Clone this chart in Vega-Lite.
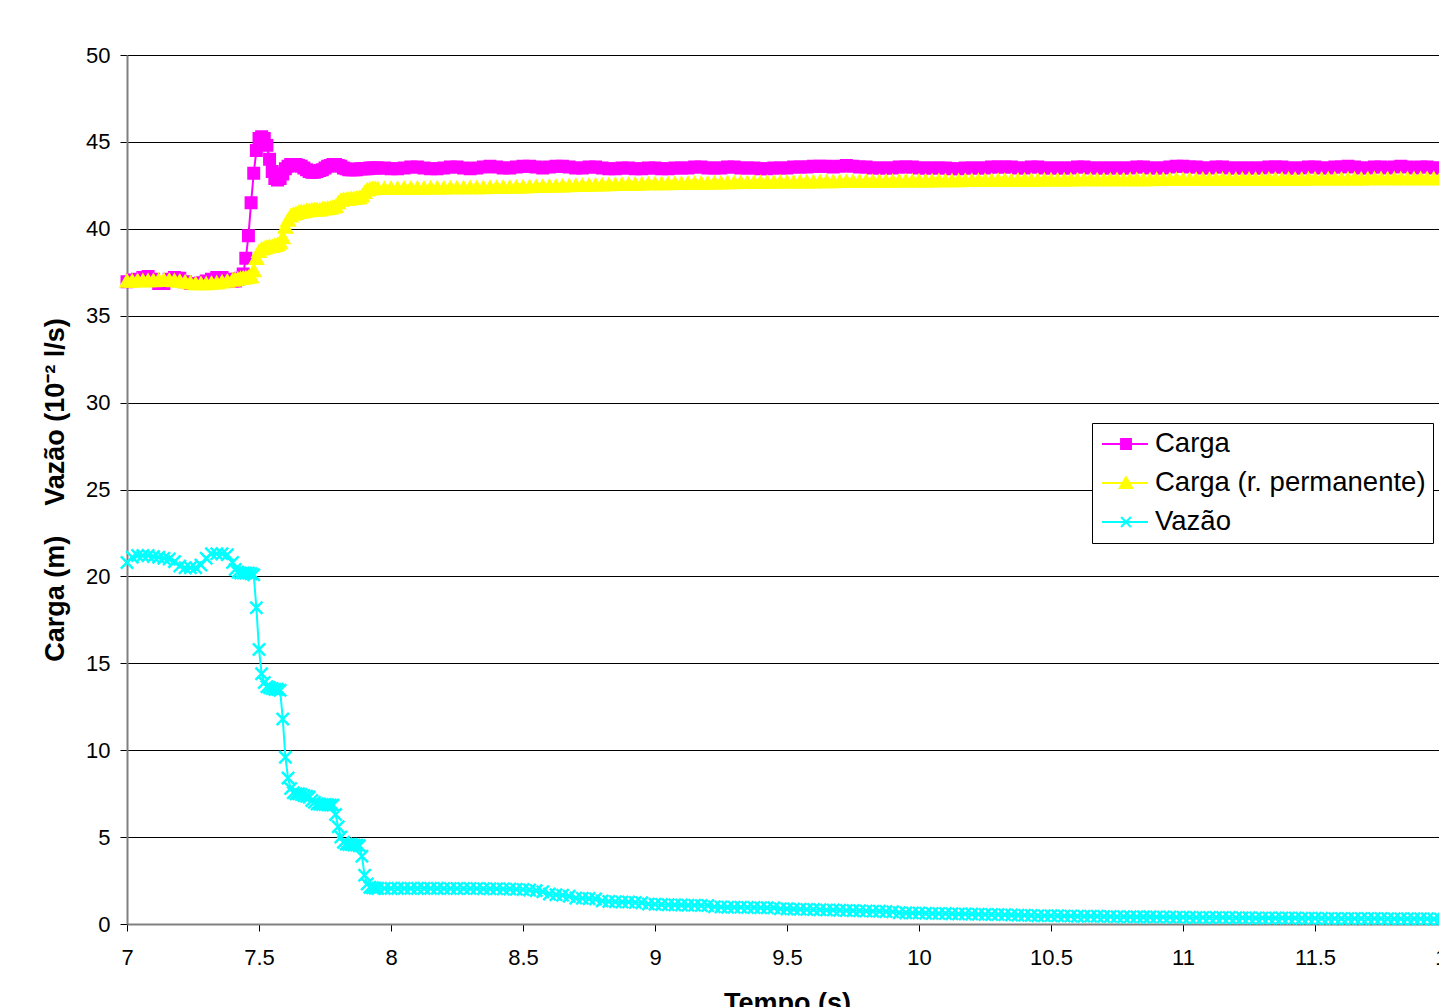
{
"$schema": "https://vega.github.io/schema/vega-lite/v6.json",
"width": 1320, "height": 869,
"autosize": {"type": "none"},
"padding": {"left": 127, "top": 55, "right": -8, "bottom": 83},
"background": "white",
"config": {"view": {"stroke": null}, "font": "Liberation Sans"},
"data": {"values": [
{"t":7.00,"c":36.95,"p":37.0,"v":20.8},
{"t":7.02,"c":37.05,"p":37.0,"v":21.1},
{"t":7.04,"c":37.1,"p":37.02,"v":21.2},
{"t":7.06,"c":37.2,"p":37.02,"v":21.2},
{"t":7.08,"c":37.25,"p":37.03,"v":21.2},
{"t":7.10,"c":37.1,"p":37.03,"v":21.15},
{"t":7.12,"c":36.85,"p":37.05,"v":21.1},
{"t":7.14,"c":36.85,"p":37.05,"v":21.05},
{"t":7.16,"c":37.1,"p":37.05,"v":21.0},
{"t":7.18,"c":37.2,"p":37.03,"v":20.85},
{"t":7.20,"c":37.15,"p":37.0,"v":20.6},
{"t":7.22,"c":36.95,"p":36.95,"v":20.5},
{"t":7.24,"c":36.85,"p":36.9,"v":20.5},
{"t":7.26,"c":36.85,"p":36.85,"v":20.5},
{"t":7.28,"c":36.9,"p":36.85,"v":20.65},
{"t":7.30,"c":37.0,"p":36.85,"v":21.05},
{"t":7.32,"c":37.1,"p":36.88,"v":21.3},
{"t":7.34,"c":37.2,"p":36.9,"v":21.3},
{"t":7.36,"c":37.2,"p":36.95,"v":21.3},
{"t":7.38,"c":37.1,"p":37.0,"v":21.25},
{"t":7.40,"c":37.0,"p":37.05,"v":20.8},
{"t":7.41,"c":37.0,"p":37.1,"v":20.4},
{"t":7.42,"c":37.1,"p":37.12,"v":20.25},
{"t":7.43,"c":37.15,"p":37.15,"v":20.2},
{"t":7.44,"c":37.4,"p":37.18,"v":20.2},
{"t":7.45,"c":38.3,"p":37.2,"v":20.2},
{"t":7.46,"c":39.6,"p":37.22,"v":20.2},
{"t":7.47,"c":41.5,"p":37.25,"v":20.15},
{"t":7.48,"c":43.2,"p":37.6,"v":20.1},
{"t":7.49,"c":44.5,"p":38.3,"v":18.2},
{"t":7.50,"c":45.2,"p":38.7,"v":15.8},
{"t":7.51,"c":45.3,"p":38.85,"v":14.4},
{"t":7.52,"c":45.2,"p":38.9,"v":13.9},
{"t":7.53,"c":44.8,"p":38.95,"v":13.65},
{"t":7.54,"c":44.0,"p":39.0,"v":13.6},
{"t":7.55,"c":43.3,"p":39.0,"v":13.55},
{"t":7.56,"c":42.9,"p":39.05,"v":13.5},
{"t":7.57,"c":42.8,"p":39.1,"v":13.5},
{"t":7.58,"c":42.9,"p":39.2,"v":13.45},
{"t":7.59,"c":43.15,"p":39.5,"v":11.8},
{"t":7.60,"c":43.45,"p":40.1,"v":9.6},
{"t":7.61,"c":43.6,"p":40.5,"v":8.4},
{"t":7.62,"c":43.7,"p":40.75,"v":7.8},
{"t":7.63,"c":43.7,"p":40.85,"v":7.55},
{"t":7.64,"c":43.7,"p":40.9,"v":7.5},
{"t":7.65,"c":43.65,"p":40.95,"v":7.5},
{"t":7.66,"c":43.6,"p":41.0,"v":7.45},
{"t":7.67,"c":43.5,"p":41.0,"v":7.4},
{"t":7.68,"c":43.4,"p":41.05,"v":7.35},
{"t":7.69,"c":43.3,"p":41.05,"v":7.3},
{"t":7.70,"c":43.25,"p":41.1,"v":7.1},
{"t":7.71,"c":43.25,"p":41.1,"v":7.0},
{"t":7.72,"c":43.3,"p":41.1,"v":6.9},
{"t":7.73,"c":43.35,"p":41.1,"v":6.9},
{"t":7.74,"c":43.4,"p":41.15,"v":6.88},
{"t":7.75,"c":43.5,"p":41.15,"v":6.87},
{"t":7.76,"c":43.6,"p":41.2,"v":6.86},
{"t":7.77,"c":43.65,"p":41.2,"v":6.85},
{"t":7.78,"c":43.7,"p":41.25,"v":6.84},
{"t":7.79,"c":43.7,"p":41.3,"v":6.3},
{"t":7.80,"c":43.65,"p":41.5,"v":5.6},
{"t":7.81,"c":43.6,"p":41.65,"v":5.0},
{"t":7.82,"c":43.5,"p":41.7,"v":4.7},
{"t":7.83,"c":43.45,"p":41.7,"v":4.6},
{"t":7.84,"c":43.4,"p":41.72,"v":4.58},
{"t":7.85,"c":43.4,"p":41.75,"v":4.57},
{"t":7.86,"c":43.4,"p":41.75,"v":4.55},
{"t":7.87,"c":43.4,"p":41.78,"v":4.55},
{"t":7.88,"c":43.45,"p":41.8,"v":4.5},
{"t":7.89,"c":43.45,"p":41.9,"v":3.9},
{"t":7.90,"c":43.45,"p":42.1,"v":2.8},
{"t":7.91,"c":43.45,"p":42.25,"v":2.3},
{"t":7.92,"c":43.5,"p":42.3,"v":2.12},
{"t":7.93,"c":43.5,"p":42.32,"v":2.08},
{"t":7.94,"c":43.5,"p":42.33,"v":2.06},
{"t":7.95,"c":43.5,"p":42.33,"v":2.05},
{"t":7.975,"c":43.5,"p":42.33,"v":2.05},
{"t":8.0,"c":43.45,"p":42.34,"v":2.05},
{"t":8.025,"c":43.45,"p":42.34,"v":2.05},
{"t":8.05,"c":43.5,"p":42.35,"v":2.05},
{"t":8.075,"c":43.55,"p":42.35,"v":2.05},
{"t":8.1,"c":43.55,"p":42.35,"v":2.05},
{"t":8.125,"c":43.5,"p":42.35,"v":2.05},
{"t":8.15,"c":43.45,"p":42.36,"v":2.05},
{"t":8.175,"c":43.45,"p":42.36,"v":2.05},
{"t":8.2,"c":43.5,"p":42.36,"v":2.04},
{"t":8.225,"c":43.55,"p":42.37,"v":2.04},
{"t":8.25,"c":43.55,"p":42.37,"v":2.04},
{"t":8.275,"c":43.5,"p":42.37,"v":2.04},
{"t":8.3,"c":43.45,"p":42.38,"v":2.04},
{"t":8.325,"c":43.5,"p":42.38,"v":2.04},
{"t":8.35,"c":43.55,"p":42.38,"v":2.03},
{"t":8.375,"c":43.6,"p":42.39,"v":2.03},
{"t":8.4,"c":43.55,"p":42.39,"v":2.03},
{"t":8.425,"c":43.5,"p":42.4,"v":2.02},
{"t":8.45,"c":43.5,"p":42.4,"v":2.02},
{"t":8.475,"c":43.55,"p":42.41,"v":2.0},
{"t":8.5,"c":43.6,"p":42.42,"v":1.98},
{"t":8.525,"c":43.6,"p":42.43,"v":1.95},
{"t":8.55,"c":43.55,"p":42.44,"v":1.92},
{"t":8.575,"c":43.5,"p":42.45,"v":1.85},
{"t":8.6,"c":43.55,"p":42.46,"v":1.72},
{"t":8.625,"c":43.6,"p":42.47,"v":1.68},
{"t":8.65,"c":43.6,"p":42.48,"v":1.66},
{"t":8.675,"c":43.55,"p":42.49,"v":1.6},
{"t":8.7,"c":43.5,"p":42.5,"v":1.5},
{"t":8.725,"c":43.5,"p":42.51,"v":1.48},
{"t":8.75,"c":43.55,"p":42.52,"v":1.46},
{"t":8.775,"c":43.55,"p":42.53,"v":1.44},
{"t":8.8,"c":43.5,"p":42.54,"v":1.33},
{"t":8.825,"c":43.45,"p":42.55,"v":1.3},
{"t":8.85,"c":43.45,"p":42.56,"v":1.28},
{"t":8.875,"c":43.5,"p":42.57,"v":1.27},
{"t":8.9,"c":43.5,"p":42.57,"v":1.26},
{"t":8.925,"c":43.45,"p":42.58,"v":1.24},
{"t":8.95,"c":43.45,"p":42.59,"v":1.22},
{"t":8.975,"c":43.5,"p":42.6,"v":1.15},
{"t":9.0,"c":43.5,"p":42.6,"v":1.13},
{"t":9.025,"c":43.45,"p":42.61,"v":1.12},
{"t":9.05,"c":43.45,"p":42.61,"v":1.11},
{"t":9.075,"c":43.5,"p":42.62,"v":1.1},
{"t":9.1,"c":43.5,"p":42.62,"v":1.09},
{"t":9.125,"c":43.5,"p":42.63,"v":1.08},
{"t":9.15,"c":43.55,"p":42.63,"v":1.08},
{"t":9.175,"c":43.55,"p":42.64,"v":1.07},
{"t":9.2,"c":43.5,"p":42.64,"v":1.06},
{"t":9.225,"c":43.5,"p":42.65,"v":0.99},
{"t":9.25,"c":43.5,"p":42.65,"v":0.98},
{"t":9.275,"c":43.55,"p":42.66,"v":0.97},
{"t":9.3,"c":43.55,"p":42.66,"v":0.97},
{"t":9.325,"c":43.5,"p":42.67,"v":0.96},
{"t":9.35,"c":43.5,"p":42.67,"v":0.95},
{"t":9.375,"c":43.5,"p":42.68,"v":0.95},
{"t":9.4,"c":43.45,"p":42.68,"v":0.94},
{"t":9.425,"c":43.45,"p":42.69,"v":0.94},
{"t":9.45,"c":43.5,"p":42.69,"v":0.93},
{"t":9.475,"c":43.5,"p":42.7,"v":0.88},
{"t":9.5,"c":43.5,"p":42.7,"v":0.87},
{"t":9.525,"c":43.55,"p":42.7,"v":0.86},
{"t":9.55,"c":43.55,"p":42.71,"v":0.85},
{"t":9.575,"c":43.55,"p":42.71,"v":0.84},
{"t":9.6,"c":43.6,"p":42.71,"v":0.83},
{"t":9.625,"c":43.6,"p":42.72,"v":0.82},
{"t":9.65,"c":43.6,"p":42.72,"v":0.81},
{"t":9.675,"c":43.55,"p":42.72,"v":0.8},
{"t":9.7,"c":43.6,"p":42.73,"v":0.79},
{"t":9.725,"c":43.65,"p":42.73,"v":0.78},
{"t":9.75,"c":43.6,"p":42.73,"v":0.77},
{"t":9.775,"c":43.55,"p":42.74,"v":0.76},
{"t":9.8,"c":43.55,"p":42.74,"v":0.75},
{"t":9.825,"c":43.5,"p":42.74,"v":0.74},
{"t":9.85,"c":43.5,"p":42.75,"v":0.73},
{"t":9.875,"c":43.5,"p":42.75,"v":0.72},
{"t":9.9,"c":43.5,"p":42.75,"v":0.7},
{"t":9.925,"c":43.55,"p":42.76,"v":0.65},
{"t":9.95,"c":43.55,"p":42.76,"v":0.64},
{"t":9.975,"c":43.55,"p":42.76,"v":0.63},
{"t":10.0,"c":43.5,"p":42.77,"v":0.63},
{"t":10.025,"c":43.5,"p":42.77,"v":0.62},
{"t":10.05,"c":43.5,"p":42.77,"v":0.61},
{"t":10.075,"c":43.5,"p":42.78,"v":0.6},
{"t":10.1,"c":43.5,"p":42.78,"v":0.6},
{"t":10.125,"c":43.45,"p":42.78,"v":0.59},
{"t":10.15,"c":43.45,"p":42.78,"v":0.58},
{"t":10.175,"c":43.5,"p":42.79,"v":0.57},
{"t":10.2,"c":43.5,"p":42.79,"v":0.57},
{"t":10.225,"c":43.5,"p":42.79,"v":0.56},
{"t":10.25,"c":43.5,"p":42.79,"v":0.55},
{"t":10.275,"c":43.55,"p":42.8,"v":0.55},
{"t":10.3,"c":43.55,"p":42.8,"v":0.54},
{"t":10.325,"c":43.55,"p":42.8,"v":0.53},
{"t":10.35,"c":43.55,"p":42.8,"v":0.52},
{"t":10.375,"c":43.5,"p":42.81,"v":0.51},
{"t":10.4,"c":43.5,"p":42.81,"v":0.5},
{"t":10.425,"c":43.55,"p":42.81,"v":0.49},
{"t":10.45,"c":43.55,"p":42.81,"v":0.48},
{"t":10.475,"c":43.5,"p":42.82,"v":0.48},
{"t":10.5,"c":43.5,"p":42.82,"v":0.47},
{"t":10.525,"c":43.5,"p":42.82,"v":0.47},
{"t":10.55,"c":43.5,"p":42.82,"v":0.46},
{"t":10.575,"c":43.5,"p":42.82,"v":0.46},
{"t":10.6,"c":43.55,"p":42.83,"v":0.45},
{"t":10.625,"c":43.55,"p":42.83,"v":0.45},
{"t":10.65,"c":43.5,"p":42.83,"v":0.44},
{"t":10.675,"c":43.5,"p":42.83,"v":0.44},
{"t":10.7,"c":43.5,"p":42.83,"v":0.43},
{"t":10.725,"c":43.5,"p":42.83,"v":0.43},
{"t":10.75,"c":43.5,"p":42.84,"v":0.42},
{"t":10.775,"c":43.5,"p":42.84,"v":0.42},
{"t":10.8,"c":43.5,"p":42.84,"v":0.42},
{"t":10.825,"c":43.55,"p":42.84,"v":0.41},
{"t":10.85,"c":43.55,"p":42.84,"v":0.41},
{"t":10.875,"c":43.5,"p":42.84,"v":0.41},
{"t":10.9,"c":43.5,"p":42.85,"v":0.4},
{"t":10.925,"c":43.5,"p":42.85,"v":0.4},
{"t":10.95,"c":43.55,"p":42.85,"v":0.4},
{"t":10.975,"c":43.6,"p":42.85,"v":0.39},
{"t":11.0,"c":43.6,"p":42.85,"v":0.39},
{"t":11.025,"c":43.55,"p":42.85,"v":0.39},
{"t":11.05,"c":43.55,"p":42.85,"v":0.38},
{"t":11.075,"c":43.5,"p":42.86,"v":0.38},
{"t":11.1,"c":43.5,"p":42.86,"v":0.38},
{"t":11.125,"c":43.55,"p":42.86,"v":0.37},
{"t":11.15,"c":43.55,"p":42.86,"v":0.37},
{"t":11.175,"c":43.5,"p":42.86,"v":0.37},
{"t":11.2,"c":43.5,"p":42.86,"v":0.36},
{"t":11.225,"c":43.5,"p":42.86,"v":0.36},
{"t":11.25,"c":43.5,"p":42.86,"v":0.36},
{"t":11.275,"c":43.5,"p":42.87,"v":0.35},
{"t":11.3,"c":43.5,"p":42.87,"v":0.35},
{"t":11.325,"c":43.55,"p":42.87,"v":0.35},
{"t":11.35,"c":43.55,"p":42.87,"v":0.34},
{"t":11.375,"c":43.55,"p":42.87,"v":0.34},
{"t":11.4,"c":43.5,"p":42.87,"v":0.34},
{"t":11.425,"c":43.5,"p":42.87,"v":0.34},
{"t":11.45,"c":43.5,"p":42.87,"v":0.33},
{"t":11.475,"c":43.55,"p":42.88,"v":0.33},
{"t":11.5,"c":43.55,"p":42.88,"v":0.33},
{"t":11.525,"c":43.5,"p":42.88,"v":0.33},
{"t":11.55,"c":43.5,"p":42.88,"v":0.32},
{"t":11.575,"c":43.55,"p":42.88,"v":0.32},
{"t":11.6,"c":43.55,"p":42.88,"v":0.32},
{"t":11.625,"c":43.6,"p":42.88,"v":0.32},
{"t":11.65,"c":43.55,"p":42.88,"v":0.31},
{"t":11.675,"c":43.5,"p":42.88,"v":0.31},
{"t":11.7,"c":43.5,"p":42.89,"v":0.31},
{"t":11.725,"c":43.55,"p":42.89,"v":0.31},
{"t":11.75,"c":43.55,"p":42.89,"v":0.31},
{"t":11.775,"c":43.5,"p":42.89,"v":0.3},
{"t":11.8,"c":43.55,"p":42.89,"v":0.3},
{"t":11.825,"c":43.6,"p":42.89,"v":0.3},
{"t":11.85,"c":43.55,"p":42.89,"v":0.3},
{"t":11.875,"c":43.5,"p":42.89,"v":0.3},
{"t":11.9,"c":43.55,"p":42.89,"v":0.3},
{"t":11.925,"c":43.55,"p":42.9,"v":0.3},
{"t":11.95,"c":43.5,"p":42.9,"v":0.29},
{"t":11.975,"c":43.5,"p":42.9,"v":0.29},
{"t":12.0,"c":43.5,"p":42.9,"v":0.29}
]},
"encoding": {
  "x": {"field": "t", "type": "quantitative",
    "scale": {"domain": [7, 12], "nice": false, "zero": false},
    "axis": {"title": "Tempo (s)", "values": [7, 7.5, 8, 8.5, 9, 9.5, 10, 10.5, 11, 11.5, 12], "format": "~g",
      "grid": false, "domainColor": "#808080", "domainWidth": 2, "tickColor": "#000", "tickSize": 7, "tickWidth": 1,
      "labelFontSize": 22, "labelColor": "#000", "labelPadding": 16, "labelFlush": false, "labelFont": "Liberation Sans",
      "titleFontSize": 27, "titleFontWeight": "bold", "titleColor": "#000", "titlePadding": 22, "titleFont": "Liberation Sans"}}
},
"layer": [
  {"transform": [{"fold": ["c", "p", "v"], "as": ["k", "y"]}],
   "mark": {"type": "line", "strokeWidth": 2},
   "encoding": {
     "y": {"field": "y", "type": "quantitative", "title": "Carga (m)\u00a0\u00a0\u00a0\u00a0Vazão (10⁻² l/s)",
       "scale": {"domain": [0, 50], "nice": false},
       "axis": {"title": "Carga (m)\u00a0\u00a0\u00a0\u00a0Vazão (10⁻² l/s)", "values": [0, 5, 10, 15, 20, 25, 30, 35, 40, 45, 50],
         "grid": true, "gridColor": "#000", "gridWidth": 1, "gridOpacity": 1,
         "domainColor": "#808080", "domainWidth": 2, "tickColor": "#000", "tickSize": 7, "tickWidth": 1,
         "labelFontSize": 22, "labelColor": "#000", "labelPadding": 10, "labelFont": "Liberation Sans",
         "titleFontSize": 27, "titleFontWeight": "bold", "titleColor": "#000", "titlePadding": 16, "titleFont": "Liberation Sans"}},
     "color": {"field": "k", "type": "nominal",
       "scale": {"domain": ["c", "p", "v"], "range": ["#ff00ff", "#ffff00", "#00ffff"]},
       "legend": {"orient": "none", "legendX": 965, "legendY": 368, "title": null,
         "labelExpr": "datum.value === 'c' ? 'Carga' : datum.value === 'p' ? 'Carga (r. permanente)' : 'Vazão'",
         "labelFont": "Liberation Sans", "labelFontSize": 27.5, "labelColor": "#000", "labelLimit": 0,
         "labelOffset": 28, "symbolSize": 676, "symbolStrokeWidth": 2, "rowPadding": 11, "padding": 7,
         "strokeColor": "#000", "fillColor": "white", "cornerRadius": 0,
         "encode": {"symbols": {"update": {
           "shape": {"signal": "datum.value === 'c' ? 'M-0.85,0H2.69M0.62,-0.38H1.38V0.38H0.62Z' : datum.value === 'p' ? 'M-0.85,0H2.69M1,-0.45L1.48,0.38H0.52Z' : 'M-0.85,0H2.69M0.62,-0.38L1.38,0.38M0.62,0.38L1.38,-0.38'"},
           "fill": {"signal": "datum.value === 'c' ? '#ff00ff' : datum.value === 'p' ? '#ffff00' : '#00ffff'"},
           "strokeWidth": {"value": 2},
           "size": {"value": 676},
           "opacity": {"value": 1}
         }}}}
     }
   }},
  {"mark": {"type": "point", "shape": "square", "filled": true, "fill": "#ff00ff", "stroke": "#ff00ff", "strokeWidth": 2, "size": 120, "opacity": 1},
   "encoding": {"y": {"field": "c", "type": "quantitative", "title": "Carga (m)\u00a0\u00a0\u00a0\u00a0Vazão (10⁻² l/s)", "scale": {"domain": [0, 50], "nice": false}}}},
  {"mark": {"type": "point", "shape": "triangle-up", "filled": true, "fill": "#ffff00", "stroke": "#ffff00", "strokeWidth": 2.5, "size": 160, "opacity": 1},
   "encoding": {"y": {"field": "p", "type": "quantitative", "title": "Carga (m)\u00a0\u00a0\u00a0\u00a0Vazão (10⁻² l/s)", "scale": {"domain": [0, 50], "nice": false}}}},
  {"mark": {"type": "point", "shape": "M-1,-1L1,1M-1,1L1,-1", "filled": true, "fill": "#00ffff", "stroke": "#00ffff", "strokeWidth": 2.5, "size": 150, "opacity": 1},
   "encoding": {"y": {"field": "v", "type": "quantitative", "title": "Carga (m)\u00a0\u00a0\u00a0\u00a0Vazão (10⁻² l/s)", "scale": {"domain": [0, 50], "nice": false}}}}
]
}
